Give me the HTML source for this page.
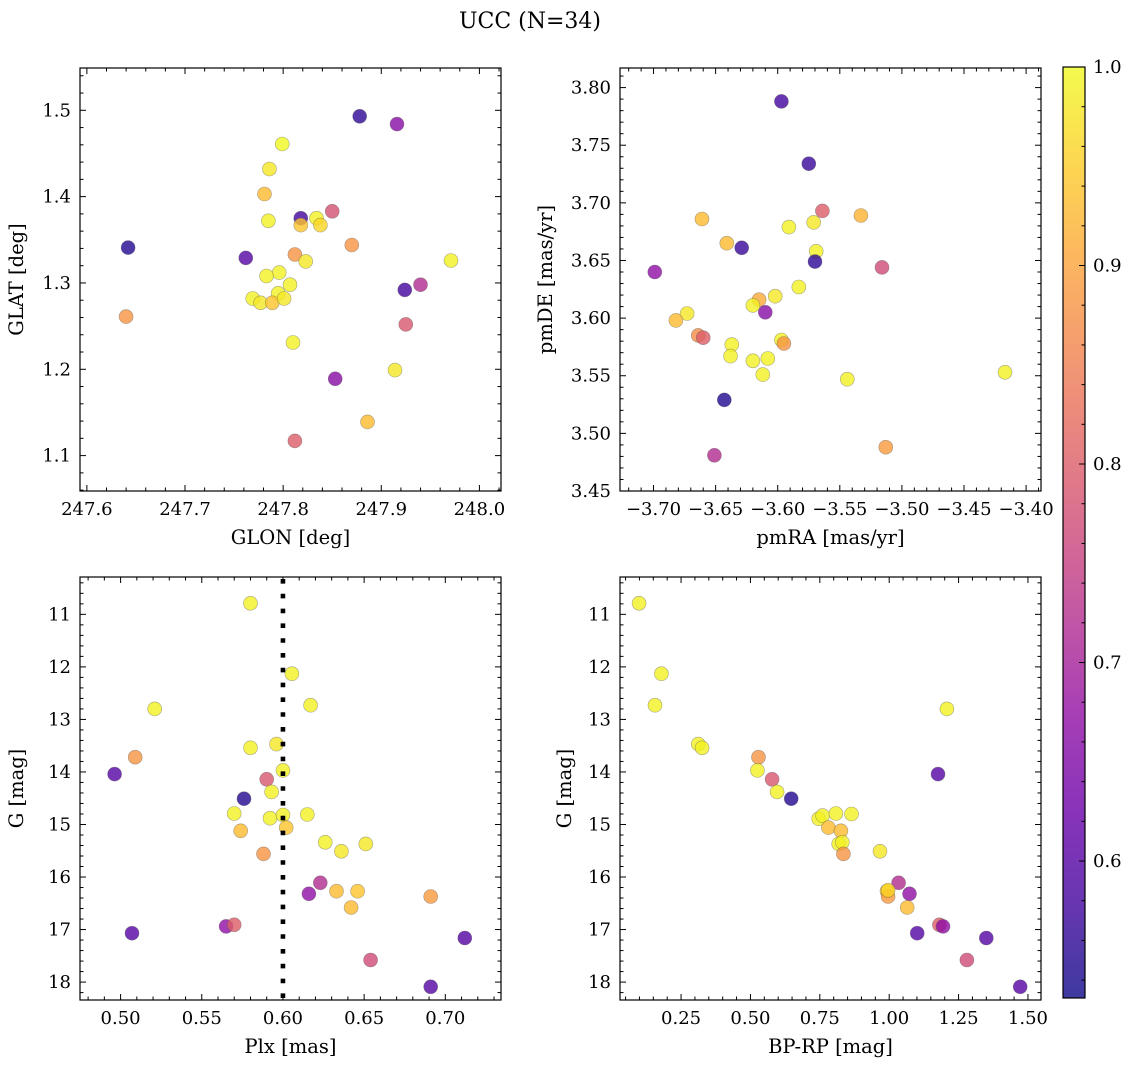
<!DOCTYPE html>
<html><head><meta charset="utf-8"><style>
html,body{margin:0;padding:0;background:#fff;}
svg{display:block;font-family:"DejaVu Serif","Liberation Serif",serif;}
</style></head><body>
<svg id="fig" width="1136" height="1067" viewBox="0 0 1136 1067" xmlns="http://www.w3.org/2000/svg">
<text x="530" y="28" font-size="22" text-anchor="middle">UCC (N=34)</text>
</svg>
<script>
// Panel 1: GLON vs GLAT
const glon = [247.878,247.916,247.799,247.786,247.781,247.785,247.818,247.818,247.834,247.838,247.850,247.870,247.642,247.762,247.812,247.823,247.971,247.796,247.783,247.807,247.924,247.940,247.795,247.769,247.777,247.789,247.801,247.640,247.925,247.810,247.914,247.853,247.886,247.812];
const glat = [1.493,1.484,1.461,1.432,1.403,1.372,1.375,1.367,1.375,1.367,1.383,1.344,1.341,1.329,1.333,1.325,1.326,1.312,1.308,1.298,1.292,1.298,1.288,1.282,1.277,1.277,1.282,1.261,1.252,1.231,1.199,1.189,1.139,1.117];
const prob1 = [0.56,0.66,1.0,0.98,0.93,0.99,0.58,0.94,0.99,0.96,0.78,0.88,0.55,0.60,0.88,0.98,0.99,0.99,0.99,0.99,0.58,0.72,0.99,0.99,0.98,0.94,0.98,0.88,0.79,0.99,0.98,0.66,0.93,0.80];
// Panel 2: pmRA vs pmDE
const pmra = [-3.597,-3.575,-3.564,-3.661,-3.533,-3.591,-3.571,-3.641,-3.629,-3.569,-3.570,-3.699,-3.516,-3.583,-3.602,-3.615,-3.620,-3.610,-3.673,-3.682,-3.664,-3.660,-3.597,-3.595,-3.637,-3.638,-3.620,-3.608,-3.612,-3.544,-3.417,-3.643,-3.513,-3.651];
const pmde = [3.788,3.734,3.693,3.686,3.689,3.679,3.683,3.665,3.661,3.658,3.649,3.640,3.644,3.627,3.619,3.616,3.611,3.605,3.604,3.598,3.585,3.583,3.581,3.578,3.577,3.567,3.563,3.565,3.551,3.547,3.553,3.529,3.488,3.481];
const prob2 = [0.58,0.57,0.80,0.93,0.92,0.99,0.98,0.93,0.57,0.99,0.56,0.67,0.77,0.99,0.98,0.91,0.99,0.66,0.98,0.93,0.87,0.80,0.99,0.88,0.99,0.99,0.99,0.99,0.99,0.99,0.99,0.55,0.89,0.72];
// Panel 3: Plx vs G
const plx = [0.580,0.6055,0.617,0.521,0.509,0.4963,0.580,0.596,0.600,0.590,0.593,0.576,0.570,0.592,0.600,0.615,0.602,0.574,0.626,0.636,0.651,0.588,0.623,0.616,0.633,0.646,0.642,0.691,0.565,0.570,0.507,0.712,0.654,0.691];
const gmag3 = [10.79,12.13,12.73,12.80,13.72,14.04,13.54,13.47,13.97,14.14,14.38,14.51,14.79,14.88,14.82,14.81,15.06,15.12,15.34,15.51,15.37,15.56,16.11,16.32,16.27,16.27,16.58,16.37,16.94,16.91,17.07,17.16,17.58,18.09];
const prob3 = [0.99,0.99,0.99,0.99,0.88,0.60,0.99,0.98,0.99,0.79,0.99,0.55,0.99,0.99,0.99,0.99,0.94,0.93,0.99,0.98,0.98,0.88,0.72,0.67,0.93,0.94,0.93,0.89,0.67,0.80,0.60,0.60,0.77,0.60];
// Panel 4: BP-RP vs G
const bprp = [0.099,0.179,0.156,1.208,0.312,0.326,0.529,0.525,0.578,0.596,0.647,1.176,0.746,0.760,0.808,0.864,0.781,0.826,0.818,0.831,0.835,0.967,1.034,0.992,1.073,0.996,1.065,1.101,1.181,1.194,1.350,1.280,1.472,0.996];
const gmag4 = [10.79,12.13,12.73,12.80,13.47,13.54,13.72,13.97,14.14,14.38,14.51,14.04,14.89,14.83,14.79,14.80,15.06,15.12,15.37,15.34,15.56,15.51,16.11,16.27,16.32,16.37,16.58,17.07,16.91,16.94,17.16,17.58,18.09,16.25];
const prob4 = [0.99,0.99,0.99,0.99,0.99,0.99,0.88,0.99,0.79,0.99,0.55,0.60,0.99,0.99,0.99,0.99,0.93,0.93,0.99,0.99,0.88,0.98,0.72,0.94,0.67,0.89,0.93,0.60,0.80,0.67,0.60,0.77,0.60,0.96];
// Tick labels
const p1XTicks = [247.6,247.7,247.8,247.9,248.0];
const p1YTicks = [1.1,1.2,1.3,1.4,1.5];
const p2XTicks = [-3.70,-3.65,-3.60,-3.55,-3.50,-3.45,-3.40];
const p2YTicks = [3.45,3.50,3.55,3.60,3.65,3.70,3.75,3.80];
const p3XTicks = [0.50,0.55,0.60,0.65,0.70];
const gTicks = [11,12,13,14,15,16,17,18];
const p4XTicks = [0.25,0.50,0.75,1.00,1.25,1.50];
const cbTicks = [0.6,0.7,0.8,0.9,1.0];
const plxRef = [0.60];
const cbRange = [0.531,1.0];

const NS='http://www.w3.org/2000/svg';
const svg=document.getElementById('fig');
function mk(tag,attrs,parent){const e=document.createElementNS(NS,tag);for(const k in attrs)e.setAttribute(k,attrs[k]);(parent||svg).appendChild(e);return e;}
const plasma=[[13,8,135],[65,4,157],[106,0,168],[143,13,164],[177,42,144],[204,71,120],[225,100,98],[242,132,75],[252,166,54],[252,206,37],[240,249,33]];
function cmap(p){let t=(p-cbRange[0])/(cbRange[1]-cbRange[0]);t=Math.max(0,Math.min(1,t));const f=t*10,i=Math.min(9,Math.floor(f)),u=f-i;const a=plasma[i],b=plasma[i+1];return 'rgb('+[0,1,2].map(k=>Math.round(a[k]+(b[k]-a[k])*u)).join(',')+')';}
function fmt(v,d){const s=Math.abs(v).toFixed(d);return (v<0?'\u2212':'')+s;}

function panel(o){
  const g=mk('g',{});
  
  
  const sx=v=>o.L+(v-o.xmin)/(o.xmax-o.xmin)*(o.R-o.L);
  const sy=o.inv?(v=>o.T+(v-o.ymin)/(o.ymax-o.ymin)*(o.B-o.T)):(v=>o.B-(v-o.ymin)/(o.ymax-o.ymin)*(o.B-o.T));
  const pg=mk('g',{},g);
  
  
  for(let i=0;i<o.xs.length;i++){
    const c=mk('circle',{cx:sx(o.xs[i]).toFixed(1),cy:sy(o.ys[i]).toFixed(1),r:7,fill:cmap(o.ps[i]),'fill-opacity':0.8,stroke:'#555','stroke-opacity':0.5,'stroke-width':0.6},pg);
    
    
  }
  if(o.vline){
    const l=mk('line',{x1:sx(o.vline[0]),x2:sx(o.vline[0]),y1:o.T+2,y2:o.B,stroke:'#000','stroke-width':4.6,'stroke-dasharray':'4.6,10.2'},g);
    
    
  }
  const fr=mk('rect',{x:o.L,y:o.T,width:o.R-o.L,height:o.B-o.T,fill:'none',stroke:'#000','stroke-width':1.2},g);
  
  
  const tg=mk('g',{stroke:'#000','stroke-width':1},g);
  const xmn=Math.ceil(o.xmin/o.xminor-1e-6),xmx=Math.floor(o.xmax/o.xminor+1e-6);
  for(let k=xmn;k<=xmx;k++){const v=k*o.xminor;const maj=o.xt.some(t=>Math.abs(t-v)<o.xminor/10);const len=maj?6:3.5;const x=sx(v);
    mk('line',{x1:x,x2:x,y1:o.B,y2:o.B-len},tg);mk('line',{x1:x,x2:x,y1:o.T,y2:o.T+len},tg);}
  const ymn=Math.ceil(o.ymin/o.yminor-1e-6),ymx=Math.floor(o.ymax/o.yminor+1e-6);
  for(let k=ymn;k<=ymx;k++){const v=k*o.yminor;const maj=o.yt.some(t=>Math.abs(t-v)<o.yminor/10);const len=maj?6:3.5;const y=sy(v);
    mk('line',{x1:o.L,x2:o.L+len,y1:y,y2:y},tg);mk('line',{x1:o.R,x2:o.R-len,y1:y,y2:y},tg);}
  o.xt.forEach(v=>{const t=mk('text',{x:sx(v),y:o.B+24,'font-size':18,'text-anchor':'middle'},g);t.textContent=fmt(v,o.xd);
    });
  o.yt.forEach(v=>{const t=mk('text',{x:o.L-9,y:sy(v)+6,'font-size':18,'text-anchor':'end'},g);t.textContent=fmt(v,o.yd);
    });
  const xl=mk('text',{x:(o.L+o.R)/2,y:o.B+53,'font-size':19.5,'text-anchor':'middle'},g);xl.textContent=o.xlab;
  
  const cy=(o.T+o.B)/2;
  const yl=mk('text',{x:o.ylx,y:cy,'font-size':19.5,'text-anchor':'middle',transform:'rotate(-90 '+o.ylx+' '+cy+')'},g);yl.textContent=o.ylab;
  
}

panel({name:'glon-glat-panel',L:80,R:501,T:68,B:491,xmin:247.593,xmax:248.022,ymin:1.059,ymax:1.549,inv:false,xs:glon,ys:glat,ps:prob1,xt:p1XTicks,yt:p1YTicks,xminor:0.02,yminor:0.02,xd:1,yd:1,xlab:'GLON [deg]',ylab:'GLAT [deg]',ylx:23});
panel({name:'pm-panel',L:620,R:1041,T:68,B:491,xmin:-3.727,xmax:-3.388,ymin:3.450,ymax:3.817,inv:false,xs:pmra,ys:pmde,ps:prob2,xt:p2XTicks,yt:p2YTicks,xminor:0.01,yminor:0.01,xd:2,yd:2,xlab:'pmRA [mas/yr]',ylab:'pmDE [mas/yr]',ylx:552});
panel({name:'plx-g-panel',L:80,R:501,T:577,B:1000,xmin:0.475,xmax:0.7343,ymin:10.289,ymax:18.341,inv:true,xs:plx,ys:gmag3,ps:prob3,xt:p3XTicks,yt:gTicks,xminor:0.01,yminor:0.2,xd:2,yd:0,xlab:'Plx [mas]',ylab:'G [mag]',ylx:23,vline:plxRef});
panel({name:'cmd-panel',L:620,R:1041,T:577,B:1000,xmin:0.030,xmax:1.547,ymin:10.289,ymax:18.341,inv:true,xs:bprp,ys:gmag4,ps:prob4,xt:p4XTicks,yt:gTicks,xminor:0.05,yminor:0.2,xd:2,yd:0,xlab:'BP-RP [mag]',ylab:'G [mag]',ylx:571});

(function(){
  const L=1063,R=1085,T=67,B=998;
  const cg=mk('g',{});
  
  
  const defs=mk('defs',{},cg);
  const lg=mk('linearGradient',{id:'cbg',x1:0,y1:1,x2:0,y2:0},defs);
  for(let i=0;i<=20;i++){const p=cbRange[0]+(cbRange[1]-cbRange[0])*i/20;mk('stop',{offset:(i/20),'stop-color':cmap(p)},lg);}
  const r=mk('rect',{x:L,y:T,width:R-L,height:B-T,fill:'url(#cbg)','fill-opacity':0.8},cg);
  
  mk('rect',{x:L,y:T,width:R-L,height:B-T,fill:'none',stroke:'#000','stroke-width':1.2},cg);
  const sy=v=>B-(v-cbRange[0])/(cbRange[1]-cbRange[0])*(B-T);
  for(let k=27;k<=50;k++){const v=k*0.02;if(v<cbRange[0]||v>cbRange[1]+1e-6)continue;const maj=cbTicks.some(t=>Math.abs(t-v)<0.002);const y=sy(v);
    mk('line',{x1:R,x2:R-(maj?6:3.5),y1:y,y2:y,stroke:'#000','stroke-width':1},cg);}
  cbTicks.forEach(v=>{const t=mk('text',{x:R+8,y:sy(v)+6,'font-size':18},cg);t.textContent=v.toFixed(1);
    });
})();
</script>
</body></html>
